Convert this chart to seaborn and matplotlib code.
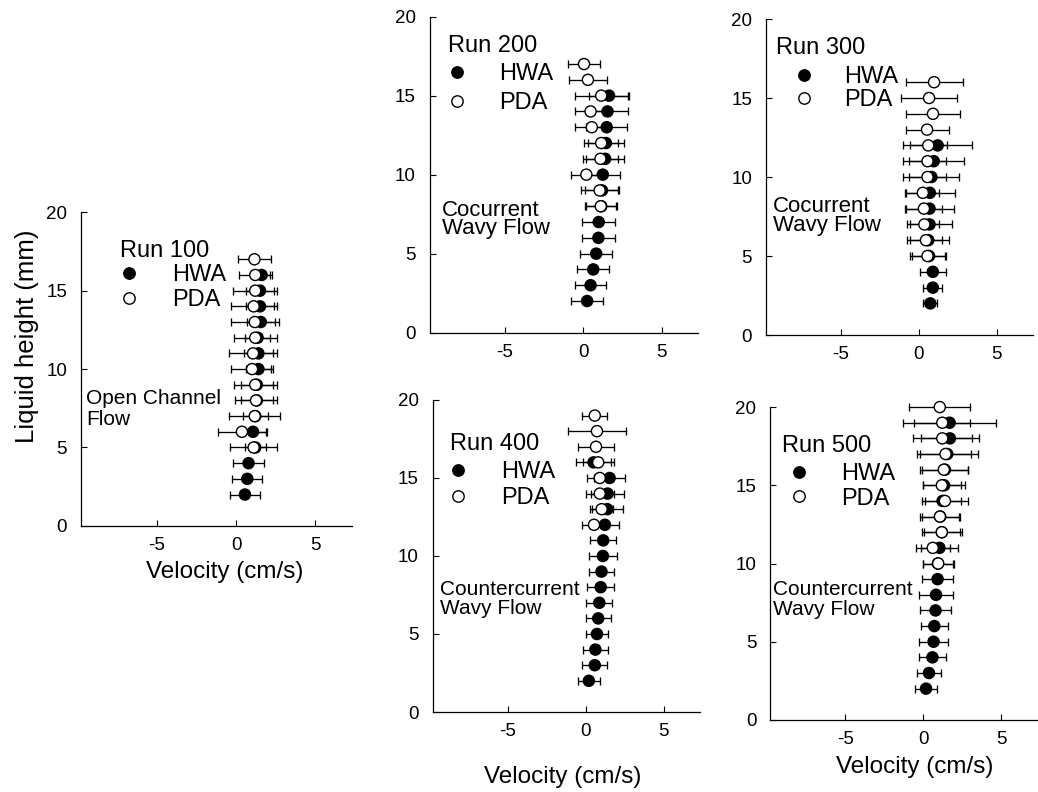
import matplotlib
matplotlib.use("Agg")
import matplotlib.pyplot as plt
from matplotlib.lines import Line2D
import pandas as pd
import seaborn as sns

# ---- Run 100: open channel flow ----
run100_hwa_h = [2, 3, 4, 5, 6, 7, 8, 9, 10, 11, 12, 13, 14, 15, 16]
run100_hwa_v = [0.55, 0.7, 0.78, 1.2, 1.06, 1.2, 1.3, 1.3, 1.4, 1.4, 1.35, 1.55, 1.5, 1.5, 1.6]
run100_hwa_e = [0.95, 0.95, 1.0, 0.65, 0.9, 0.8, 1.0, 1.0, 0.8, 0.9, 0.8, 0.9, 0.9, 0.9, 0.55]
run100_pda_h = [5, 6, 7, 8, 9, 10, 11, 12, 13, 14, 15, 16, 17]
run100_pda_v = [1.1, 0.36, 1.17, 1.25, 1.2, 1.0, 1.06, 1.2, 1.17, 1.1, 1.2, 1.2, 1.15]
run100_pda_e = [1.5, 1.5, 1.6, 1.3, 1.35, 1.3, 1.5, 1.37, 1.5, 1.45, 1.4, 1.05, 1.05]

# ---- Run 200: cocurrent wavy flow ----
run200_hwa_h = [2, 3, 4, 5, 6, 7, 8, 9, 10, 11, 12, 13, 14, 15]
run200_hwa_v = [0.25, 0.47, 0.64, 0.83, 0.97, 0.99, 1.15, 1.2, 1.25, 1.4, 1.45, 1.5, 1.55, 1.65]
run200_hwa_e = [1.04, 0.97, 1.03, 1.04, 1.07, 1.05, 0.95, 1.1, 1.1, 1.2, 1.15, 1.3, 1.3, 1.3]
run200_pda_h = [8, 9, 10, 11, 12, 13, 14, 15, 16, 17]
run200_pda_v = [1.12, 1.05, 0.2, 1.1, 1.15, 0.55, 0.47, 1.15, 0.3, 0.05]
run200_pda_e = [1.03, 1.2, 0.95, 1.1, 1.1, 1.1, 1.0, 1.7, 1.2, 1.05]

# ---- Run 300: cocurrent wavy flow ----
run300_hwa_h = [2, 3, 4, 5, 6, 7, 8, 9, 10, 11, 12]
run300_hwa_v = [0.73, 0.89, 0.89, 0.65, 0.6, 0.68, 0.68, 0.7, 0.8, 0.95, 1.2]
run300_hwa_e = [0.45, 0.6, 0.83, 1.1, 1.35, 1.42, 1.55, 1.6, 1.8, 1.95, 2.2]
run300_pda_h = [5, 6, 7, 8, 9, 10, 11, 12, 13, 14, 15, 16]
run300_pda_v = [0.55, 0.45, 0.35, 0.32, 0.25, 0.55, 0.55, 0.6, 0.52, 0.9, 0.65, 0.97]
run300_pda_e = [1.15, 1.0, 0.95, 1.18, 1.05, 1.2, 1.2, 1.2, 1.38, 1.75, 1.78, 1.83]

# ---- Run 400: countercurrent wavy flow ----
run400_hwa_h = [2, 3, 4, 5, 6, 7, 8, 9, 10, 11, 12, 13, 14, 15, 16]
run400_hwa_v = [0.2, 0.58, 0.62, 0.72, 0.8, 0.87, 0.96, 1.01, 1.1, 1.12, 1.23, 1.38, 1.4, 1.53, 0.5]
run400_hwa_e = [0.72, 0.8, 0.78, 0.72, 0.8, 0.83, 0.85, 0.8, 0.88, 0.84, 0.9, 1.0, 1.05, 1.0, 1.1]
run400_pda_h = [12, 13, 14, 15, 16, 17, 18, 19]
run400_pda_v = [0.53, 1.02, 0.9, 0.9, 0.8, 0.66, 0.72, 0.58]
run400_pda_e = [0.75, 0.75, 0.9, 0.85, 1.0, 1.17, 1.83, 0.8]

# ---- Run 500: countercurrent wavy flow ----
run500_hwa_h = [2, 3, 4, 5, 6, 7, 8, 9, 10, 11, 12, 13, 14, 15, 16, 17, 18, 19]
run500_hwa_v = [0.19, 0.38, 0.6, 0.67, 0.72, 0.8, 0.83, 0.93, 0.95, 1.05, 1.2, 1.1,
                1.25, 1.35, 1.4, 1.55, 1.72, 1.7]
run500_hwa_e = [0.72, 0.78, 0.85, 0.92, 0.87, 1.0, 1.08, 0.97, 0.95, 1.2, 1.15, 1.2,
                1.15, 1.35, 1.5, 1.95, 1.85, 3.0]
run500_pda_h = [10, 11, 12, 13, 14, 15, 16, 17, 18, 19, 20]
run500_pda_v = [0.97, 0.62, 1.2, 1.08, 1.4, 1.2, 1.33, 1.44, 1.23, 1.23, 1.07]
run500_pda_e = [1.0, 1.1, 1.3, 1.27, 1.45, 1.2, 1.55, 1.65, 1.9, 1.8, 1.96]

x_ticks = [-5, 0, 5]
y_ticks = [0, 5, 10, 15, 20]

sns.set_theme(style="ticks")
plt.rcParams["font.family"] = ["Liberation Sans", "DejaVu Sans"]
plt.rcParams.update({
    "text.color": "black",
    "axes.labelcolor": "black",
    "xtick.color": "black",
    "ytick.color": "black",
    "axes.unicode_minus": False,
})

fig = plt.figure(figsize=(10.38, 7.92), dpi=100)


def profile_frame(h_hwa, v_hwa, e_hwa, h_pda, v_pda, e_pda):
    hwa = pd.DataFrame({"height": h_hwa, "velocity": v_hwa, "err": e_hwa, "probe": "HWA"})
    pda = pd.DataFrame({"height": h_pda, "velocity": v_pda, "err": e_pda, "probe": "PDA"})
    return pd.concat([hwa, pda], ignore_index=True)


def draw_run(rect, df, run_label, title_xy, note, note_xy, note_size, note_ls,
             leg_xy, leg_tp, leg_sp):
    ax = fig.add_axes(rect)
    # error bars underneath, markers on top (PDA drawn after HWA)
    ax.errorbar(df["velocity"], df["height"], xerr=df["err"], fmt="none",
                ecolor="black", elinewidth=0.95, capsize=2.6, capthick=0.95,
                zorder=1, clip_on=False)
    sns.scatterplot(data=df, x="velocity", y="height", hue="probe",
                    palette={"HWA": "black", "PDA": "white"}, edgecolor="black",
                    linewidth=1.0, s=64, legend=False, ax=ax, zorder=3,
                    clip_on=False)
    ax.set_xlim(-9.8, 7.3)
    ax.set_ylim(0, 20)
    ax.set_xticks(x_ticks)
    ax.set_yticks(y_ticks)
    ax.set_xlabel("")
    ax.set_ylabel("")
    sns.despine(ax=ax)
    for s in ("left", "bottom"):
        ax.spines[s].set_linewidth(0.9)
        ax.spines[s].set_color("black")
    ax.tick_params(direction="in", length=4, width=0.8, labelsize=13.5)
    ax.tick_params(axis="x", pad=8)
    ax.tick_params(axis="y", pad=10)
    ax.set_facecolor("white")

    ax.text(title_xy[0], title_xy[1], run_label, transform=ax.transAxes,
            ha="left", va="center", fontsize=17)
    handles = [
        Line2D([], [], ls="", marker="o", markersize=8.2, markerfacecolor="black",
               markeredgecolor="black", markeredgewidth=1.0),
        Line2D([], [], ls="", marker="o", markersize=8.2, markerfacecolor="white",
               markeredgecolor="black", markeredgewidth=1.0),
    ]
    ax.legend(handles, ["HWA", "PDA"], loc="upper left", bbox_to_anchor=leg_xy,
              frameon=False, fontsize=17, borderpad=0, borderaxespad=0,
              handlelength=0.8, handletextpad=leg_tp, labelspacing=leg_sp)

    ax.text(note_xy[0], note_xy[1], note, transform=ax.transAxes, ha="left",
            va="top", fontsize=note_size, linespacing=note_ls)
    return ax


ax1 = draw_run([0.078, 0.336, 0.261, 0.396],
               profile_frame(run100_hwa_h, run100_hwa_v, run100_hwa_e,
                             run100_pda_h, run100_pda_v, run100_pda_e),
               "Run 100", (0.144, 0.878),
               "Open Channel\nFlow", (0.018, 0.437), 15, 1.13,
               (0.142, 0.834), 1.42, 0.12)
ax2 = draw_run([0.414, 0.580, 0.258, 0.399],
               profile_frame(run200_hwa_h, run200_hwa_v, run200_hwa_e,
                             run200_pda_h, run200_pda_v, run200_pda_e),
               "Run 200", (0.067, 0.906),
               "Cocurrent\nWavy Flow", (0.044, 0.421), 16, 0.84,
               (0.068, 0.853), 1.35, 0.29)
ax3 = draw_run([0.738, 0.577, 0.257, 0.399],
               profile_frame(run300_hwa_h, run300_hwa_v, run300_hwa_e,
                             run300_pda_h, run300_pda_v, run300_pda_e),
               "Run 300", (0.039, 0.909),
               "Cocurrent\nWavy Flow", (0.027, 0.4395), 16, 0.86,
               (0.106, 0.850), 1.32, 0.02)
ax4 = draw_run([0.417, 0.101, 0.257, 0.394],
               profile_frame(run400_hwa_h, run400_hwa_v, run400_hwa_e,
                             run400_pda_h, run400_pda_v, run400_pda_e),
               "Run 400", (0.065, 0.860),
               "Countercurrent\nWavy Flow", (0.026, 0.424), 15, 1.0,
               (0.058, 0.803), 1.42, 0.165)
ax5 = draw_run([0.742, 0.091, 0.257, 0.395],
               profile_frame(run500_hwa_h, run500_hwa_v, run500_hwa_e,
                             run500_pda_h, run500_pda_v, run500_pda_e),
               "Run 500", (0.044, 0.876),
               "Countercurrent\nWavy Flow", (0.011, 0.447), 15, 1.07,
               (0.071, 0.820), 1.4, 0.09)

ax1.set_ylabel("Liquid height (mm)", fontsize=18.5, va="center")
ax1.yaxis.set_label_coords(-0.2, 0.605)
for ax, xy in ((ax1, (0.53, -0.146)), (ax4, (0.487, -0.207)), (ax5, (0.543, -0.149))):
    ax.set_xlabel("Velocity (cm/s)", fontsize=17.5, va="center")
    ax.xaxis.set_label_coords(*xy)

fig.savefig("out.png", dpi=100, facecolor="white")
